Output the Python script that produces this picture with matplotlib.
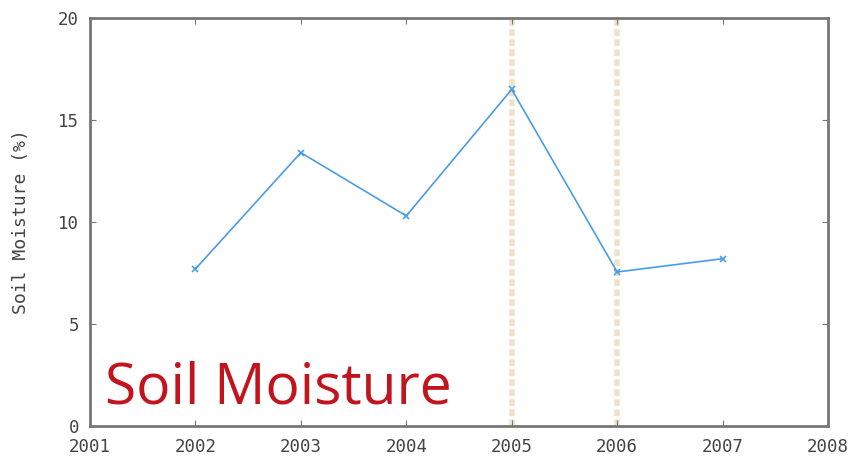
import matplotlib.pyplot as plt

years = [2002, 2003, 2004, 2005, 2006, 2007]
moisture = [7.7, 13.4, 10.3, 16.5, 7.55, 8.2]
marked_years = [2005, 2006]
xticks = [2001, 2002, 2003, 2004, 2005, 2006, 2007, 2008]
yticks = [0, 5, 10, 15, 20]

fig = plt.figure(figsize=(8.57, 4.59), dpi=100)
ax = fig.add_axes([90 / 857, 1 - 426 / 459, 738 / 857, 408 / 459])

for yr in marked_years:
    ax.axvline(yr, color='#ebe3cc', lw=4, ls=(0, (1.2, 0.6)), zorder=1)

ax.plot(years, moisture, color='#4a9be8', lw=1.2, marker='x', ms=5, mew=1.2, zorder=3)

ax.set_xlim(2001, 2008)
ax.set_ylim(0, 20)
ax.set_xticks(xticks)
ax.set_yticks(yticks)
ax.tick_params(direction='in', top=True, right=True, length=4, color='#777777',
               labelsize=12.5, labelcolor='#444444')
ax.tick_params(axis='x', pad=9)
ax.tick_params(axis='y', pad=8)
for lab in ax.get_xticklabels() + ax.get_yticklabels():
    lab.set_family('DejaVu Sans Mono')
for s in ax.spines.values():
    s.set_color('#777777')
    s.set_linewidth(2)

ax.set_ylabel('Soil Moisture (%)', family='DejaVu Sans Mono', fontsize=13, color='#444444')
ax.yaxis.set_label_coords(-60 / 738, 0.5)

ax.text(0.02, 0.056, 'Soil Moisture', transform=ax.transAxes, fontsize=41,
        color='#c2141c', family='Open Sans', zorder=4)

plt.savefig('out.png', dpi=100)
